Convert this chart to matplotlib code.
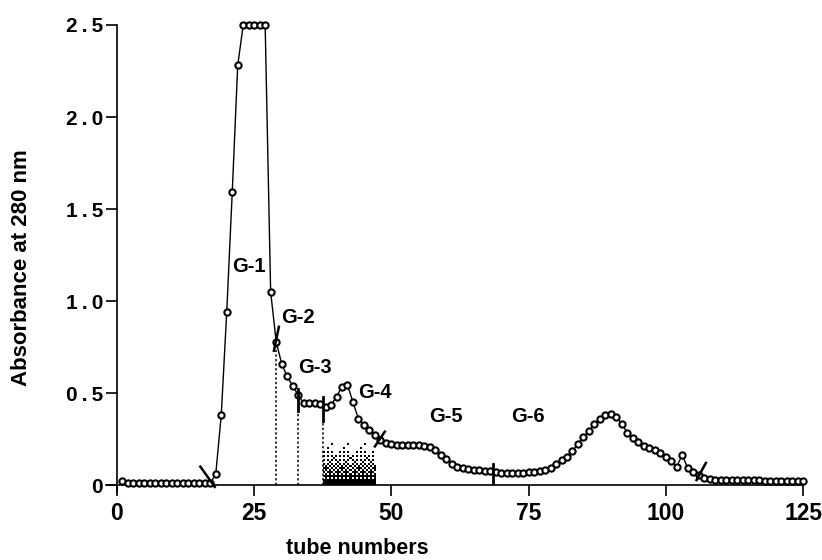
import numpy as np
import matplotlib
matplotlib.use("Agg")
import matplotlib.pyplot as plt

# absorbance readings, one per tube
tubes = np.arange(1, 126)
absorbance = [
    0.020, 0.012, 0.010, 0.010, 0.010, 0.010, 0.010, 0.010, 0.010, 0.010,   # 1-10
    0.010, 0.010, 0.010, 0.010, 0.010, 0.010, 0.010, 0.060, 0.380, 0.940,   # 11-20
    1.590, 2.280, 2.500, 2.500, 2.500, 2.500, 2.500, 1.050, 0.780, 0.660,   # 21-30
    0.590, 0.540, 0.490, 0.445, 0.445, 0.445, 0.440, 0.425, 0.435, 0.480,   # 31-40
    0.535, 0.545, 0.450, 0.360, 0.325, 0.300, 0.270, 0.245, 0.230, 0.225,   # 41-50
    0.220, 0.220, 0.215, 0.215, 0.215, 0.210, 0.205, 0.190, 0.165, 0.140,   # 51-60
    0.115, 0.100, 0.092, 0.087, 0.083, 0.080, 0.077, 0.074, 0.070, 0.068,   # 61-70
    0.067, 0.067, 0.067, 0.068, 0.070, 0.072, 0.076, 0.083, 0.095, 0.115,   # 71-80
    0.135, 0.155, 0.185, 0.225, 0.260, 0.295, 0.330, 0.360, 0.378, 0.384,   # 81-90
    0.372, 0.330, 0.285, 0.255, 0.232, 0.213, 0.200, 0.188, 0.172, 0.150,   # 91-100
    0.128, 0.100, 0.165, 0.090, 0.072, 0.055, 0.040, 0.033, 0.028, 0.026,   # 101-110
    0.025, 0.025, 0.025, 0.025, 0.025, 0.025, 0.025, 0.024, 0.024, 0.024,   # 111-120
    0.024, 0.024, 0.024, 0.024, 0.024,                                      # 121-125
]

# fraction labels and where they sit
fraction_names = ["G-1", "G-2", "G-3", "G-4", "G-5", "G-6"]
fraction_label_x = [24.1, 32.9, 36.1, 47.0, 59.9, 74.9]
fraction_label_y = [1.19, 0.91, 0.64, 0.505, 0.375, 0.37]

# cut marks between fractions: (x0, y0, x1, y1)
slash_cuts = [(15.2, 0.10, 17.8, -0.01),
              (28.6, 0.73, 29.5, 0.86),
              (47.0, 0.21, 48.8, 0.29),
              (105.6, 0.027, 107.3, 0.12)]
bar_cuts = [(33.0, 0.40, 0.52), (37.6, 0.35, 0.48), (68.5, 0.01, 0.115)]
dotted_cuts = [(29.0, 0.76), (33.0, 0.40), (37.6, 0.35)]

# shaded pooled region
pool_start, pool_end, pool_top = 37.6, 47.2, 0.225

xticks = [0, 25, 50, 75, 100, 125]
yticks = [0, 0.5, 1.0, 1.5, 2.0, 2.5]
ytick_labels = ["0", "0\u2009.\u20095", "1\u2009.\u20090", "1\u2009.\u20095",
                "2\u2009.\u20090", "2\u2009.\u20095"]

bold = {"family": ["Liberation Sans", "DejaVu Sans"], "weight": "bold"}
narrow = {"family": ["Liberation Sans Narrow", "Liberation Sans", "DejaVu Sans"],
          "weight": "bold"}

fig = plt.figure(figsize=(8.22, 5.60), dpi=100)
ax = fig.add_axes([106 / 822, 1 - 492.4 / 560, (803 - 106) / 822, (492.4 - 25) / 560])

# halftone fill, darker toward the bottom (ordered dither, 8x8 bayer)
b2 = np.array([[0, 2], [3, 1]])
b4 = np.block([[4 * b2, 4 * b2 + 2], [4 * b2 + 3, 4 * b2 + 1]])
b8 = np.block([[4 * b4, 4 * b4 + 2], [4 * b4 + 3, 4 * b4 + 1]]) / 64.0
rows, cols = 21, 26
darkness = np.linspace(1.0, 0.08, rows)[:, None] ** 1.4 * np.ones((1, cols))
thresh = np.tile(b8, (rows // 8 + 1, cols // 8 + 1))[:rows, :cols]
halftone = (darkness > thresh).astype(float)
ax.imshow(halftone, cmap="Greys", vmin=0, vmax=1, origin="lower", aspect="auto",
          interpolation="nearest", extent=[pool_start, pool_end, 0, pool_top], zorder=1)

ax.plot(tubes, absorbance, color="black", lw=1.0, marker="o", ms=4.5,
        mfc="white", mec="black", mew=1.5, zorder=3, clip_on=False)

for x, top in dotted_cuts:
    ax.plot([x, x], [0, top], color="black", lw=1.1, ls=(0, (1.5, 1.5)), zorder=2)
for x, y0, y1 in bar_cuts:
    ax.plot([x, x], [y0, y1], color="black", lw=2.0, zorder=4)
for x0, y0, x1, y1 in slash_cuts:
    ax.plot([x0, x1], [y0, y1], color="black", lw=1.8, zorder=4, clip_on=False)

for name, lx, ly in zip(fraction_names, fraction_label_x, fraction_label_y):
    ax.text(lx, ly, name, ha="center", va="center", fontsize=14.5, **bold)

ax.set_xlim(-2, 125)
ax.set_ylim(-0.04, 2.5)
ax.spines["left"].set_position(("data", 0))
ax.spines["bottom"].set_position(("data", 0))
ax.spines["top"].set_visible(False)
ax.spines["right"].set_visible(False)
for s in ("left", "bottom"):
    ax.spines[s].set_linewidth(1.2)

ax.set_xticks(xticks)
ax.set_xticklabels([str(t) for t in xticks], fontsize=16.5, **narrow)
ax.set_yticks(yticks)
ax.set_yticklabels(ytick_labels, fontsize=15, **bold)
ax.tick_params(axis="both", direction="out", length=8, width=1.2)
ax.tick_params(axis="y", pad=2)
ax.tick_params(axis="x", pad=4)

fig.text(22 / 822, 1 - 268 / 560, "Absorbance at 280 nm", rotation=90,
         ha="center", va="center", fontsize=16, **bold)
fig.text(357 / 822, 1 - 548 / 560, "tube numbers", ha="center", va="center",
         fontsize=15.5, **narrow)

fig.savefig("out.png", dpi=100)
